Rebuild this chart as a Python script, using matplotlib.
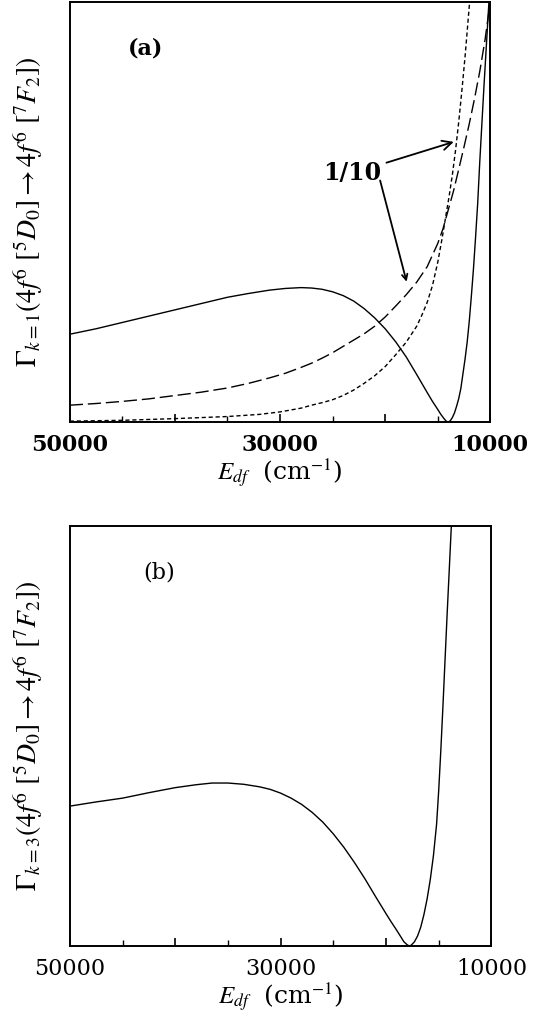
import numpy as np
import matplotlib
matplotlib.use("Agg")
import matplotlib.pyplot as plt
from matplotlib.ticker import MultipleLocator, FuncFormatter

plt.rcParams['font.family'] = 'DejaVu Serif'
plt.rcParams['mathtext.fontset'] = 'stix'

# panel (a): k=1, solid curve
e_a_solid = [50000, 47500, 45000, 42500, 40000, 37500, 35000, 33000, 31000, 29500,
             28000, 27000, 26000, 25000, 24000, 23000, 22000, 21000, 20000, 19000,
             18000, 17000, 16000, 15500, 15000, 14700, 14400, 14200, 14000, 13800,
             13600, 13400, 13200, 13000, 12800, 12600, 12400, 12200, 12000, 11800,
             11600, 11400, 11200, 11000, 10800, 10600, 10400, 10200, 10130]
g_a_solid = [0.209, 0.222, 0.237, 0.252, 0.267, 0.282, 0.297, 0.306, 0.314, 0.318,
             0.320, 0.319, 0.316, 0.310, 0.301, 0.288, 0.270, 0.248, 0.222, 0.191,
             0.155, 0.113, 0.070, 0.049, 0.030, 0.018, 0.008, 0.002, 0.000, 0.003,
             0.011, 0.022, 0.038, 0.056, 0.080, 0.115, 0.150, 0.190, 0.240, 0.300,
             0.365, 0.440, 0.520, 0.620, 0.710, 0.800, 0.885, 0.970, 1.000]

# panel (a): long dashed curve (scaled 1/10)
e_a_long = [50000, 47500, 45000, 42500, 40000, 37500, 35000, 33000, 31000, 29500,
            28000, 27000, 26000, 25000, 24000, 23000, 22000, 21000, 20000, 19000,
            18000, 17000, 16000, 15000, 14500, 14000, 13500, 13000, 12500, 12000,
            11500, 11000, 10500, 10200, 10000]
g_a_long = [0.040, 0.044, 0.049, 0.055, 0.063, 0.071, 0.081, 0.092, 0.105, 0.116,
            0.130, 0.140, 0.152, 0.165, 0.180, 0.195, 0.210, 0.228, 0.250, 0.276,
            0.303, 0.333, 0.370, 0.425, 0.460, 0.505, 0.550, 0.602, 0.655, 0.710,
            0.770, 0.835, 0.910, 0.965, 1.000]

# panel (a): short dashed curve (scaled 1/10)
e_a_short = [50000, 45000, 40000, 35000, 32000, 30000, 28000, 27000, 26000, 25000,
             24000, 23000, 22000, 21000, 20000, 19000, 18000, 17000, 16500, 16000,
             15500, 15000, 14600, 14200, 13900, 13600, 13300, 13000, 12700, 12400,
             12200, 12000, 11970]
g_a_short = [0.002, 0.004, 0.008, 0.013, 0.018, 0.024, 0.033, 0.040, 0.046, 0.053,
             0.063, 0.076, 0.092, 0.110, 0.132, 0.160, 0.190, 0.228, 0.255, 0.285,
             0.325, 0.380, 0.435, 0.495, 0.540, 0.590, 0.648, 0.715, 0.790, 0.870,
             0.930, 0.990, 1.000]

# panel (b): k=3
e_b = [50000, 47500, 45000, 42500, 40000, 38000, 36500, 35000, 33500, 32000,
       31000, 30000, 29000, 28000, 27000, 26000, 25000, 24000, 23000, 22000,
       21000, 20000, 19500, 19000, 18600, 18300, 18000, 17800, 17600, 17300,
       17000, 16700, 16400, 16100, 15800, 15500, 15200, 15000, 14800, 14600,
       14400, 14200, 14000, 13820, 13800]
g_b = [0.333, 0.343, 0.352, 0.365, 0.377, 0.384, 0.388, 0.388, 0.385, 0.379,
       0.373, 0.364, 0.352, 0.337, 0.318, 0.295, 0.267, 0.235, 0.199, 0.160,
       0.118, 0.077, 0.057, 0.038, 0.022, 0.010, 0.003, 0.000, 0.002, 0.010,
       0.024, 0.045, 0.075, 0.112, 0.158, 0.215, 0.290, 0.370, 0.465, 0.570,
       0.680, 0.790, 0.895, 0.990, 1.000]

x_labels = {50000: '50000', 30000: '30000', 10000: '10000'}

fig = plt.figure(figsize=(5.54, 10.23), dpi=100)
ax1 = fig.add_axes([0.126, 0.5875, 0.759, 0.4105])
ax2 = fig.add_axes([0.126, 0.0753, 0.761, 0.4105])


def style(ax, ylab, weight):
    ax.set_xlim(50000, 10000)
    ax.set_ylim(0, 1)
    ax.xaxis.set_major_locator(MultipleLocator(10000))
    ax.xaxis.set_minor_locator(MultipleLocator(5000))
    ax.xaxis.set_major_formatter(FuncFormatter(lambda v, p: x_labels.get(int(round(v)), '')))
    ax.tick_params(axis='x', which='major', direction='in', length=6, width=1.2,
                   labelsize=16, pad=9)
    ax.tick_params(axis='x', which='minor', direction='in', length=4, width=1.0)
    ax.set_yticks([])
    for lab in ax.get_xticklabels():
        lab.set_fontweight(weight)
    for s in ax.spines.values():
        s.set_linewidth(1.4)
    ax.set_xlabel(r'$E_{df}$  (cm$^{-1}$)', fontsize=18, labelpad=0)
    ax.set_ylabel(ylab, fontsize=20)
    ax.yaxis.set_label_coords(-0.06, 0.5)


ax1.plot(e_a_solid, g_a_solid, color='black', lw=1.0)
ax1.plot(e_a_long, g_a_long, color='black', lw=1.0, linestyle=(0, (9.5, 3.5)))
ax1.plot(e_a_short, g_a_short, color='black', lw=1.0, linestyle=(0, (3, 2)))
style(ax1, r'$\Gamma_{k=1}(4f^6\ [^5D_0] \rightarrow 4f^6\ [^7F_2])$', 'bold')
ax1.text(0.18, 0.89, '(a)', transform=ax1.transAxes, fontsize=16,
         fontweight='bold', ha='center', va='center')
ax1.annotate('1/10', xy=(13480, 0.667), xytext=(0.671, 0.592),
             textcoords='axes fraction', fontsize=17, fontweight='bold',
             ha='center', va='center',
             arrowprops=dict(arrowstyle='->', color='black', lw=1.3,
                             shrinkA=2, shrinkB=0))
ax1.annotate('', xy=(17960, 0.334), xytext=(0.738, 0.575),
             textcoords='axes fraction',
             arrowprops=dict(arrowstyle='->', color='black', lw=1.3,
                             shrinkA=0, shrinkB=0))

ax2.plot(e_b, g_b, color='black', lw=1.0)
style(ax2, r'$\Gamma_{k=3}(4f^6\ [^5D_0] \rightarrow 4f^6\ [^7F_2])$', 'normal')
ax2.text(0.211, 0.89, '(b)', transform=ax2.transAxes, fontsize=16,
         ha='center', va='center')

fig.savefig('out.png', dpi=100)
